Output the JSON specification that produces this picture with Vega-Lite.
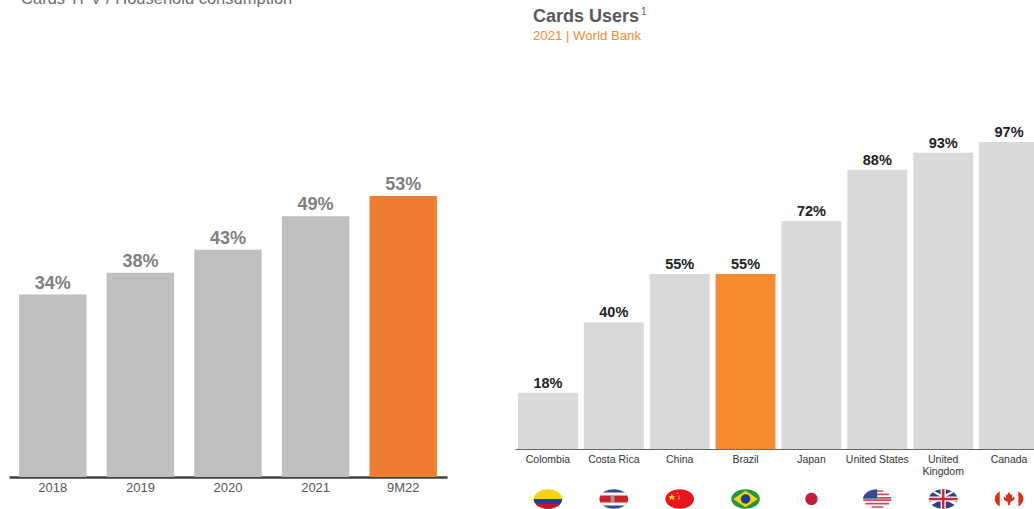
{
  "$schema": "https://vega.github.io/schema/vega-lite/v6.json",
  "width": 1034,
  "height": 509,
  "padding": 0,
  "autosize": {"type": "none"},
  "background": "white",
  "config": {"view": {"stroke": null}, "font": "Liberation Sans"},
  "datasets": {
    "tpv": [
      {"period": "2018", "share": 34.3, "label": "34%"},
      {"period": "2019", "share": 38.4, "label": "38%"},
      {"period": "2020", "share": 42.7, "label": "43%"},
      {"period": "2021", "share": 49, "label": "49%"},
      {"period": "9M22", "share": 52.8, "label": "53%"}
    ],
    "users": [
      {"country": "Colombia", "share": 17.8, "label": "18%"},
      {"country": "Costa Rica", "share": 40, "label": "40%"},
      {"country": "China", "share": 55.3, "label": "55%"},
      {"country": "Brazil", "share": 55.3, "label": "55%"},
      {"country": "Japan", "share": 72, "label": "72%"},
      {"country": "United States", "share": 88.2, "label": "88%"},
      {"country": "United Kingdom", "share": 93.6, "label": "93%"},
      {"country": "Canada", "share": 97, "label": "97%"}
    ],
    "flags": [
      {"country": "Colombia", "part": "co-yellow"},
      {"country": "Colombia", "part": "co-blue"},
      {"country": "Colombia", "part": "co-red"},
      {"country": "Costa Rica", "part": "cr-blue"},
      {"country": "Costa Rica", "part": "cr-white"},
      {"country": "Costa Rica", "part": "cr-red"},
      {"country": "Costa Rica", "part": "cr-emblem"},
      {"country": "China", "part": "cn-red"},
      {"country": "China", "part": "cn-stars"},
      {"country": "Brazil", "part": "br-green"},
      {"country": "Brazil", "part": "br-yellow"},
      {"country": "Brazil", "part": "br-blue"},
      {"country": "Japan", "part": "jp-rim"},
      {"country": "Japan", "part": "jp-white"},
      {"country": "Japan", "part": "jp-red"},
      {"country": "United States", "part": "us-white"},
      {"country": "United States", "part": "us-stripes"},
      {"country": "United States", "part": "us-blue"},
      {"country": "United Kingdom", "part": "uk-blue"},
      {"country": "United Kingdom", "part": "uk-diag"},
      {"country": "United Kingdom", "part": "uk-cross-white"},
      {"country": "United Kingdom", "part": "uk-cross-red"},
      {"country": "Canada", "part": "ca-white"},
      {"country": "Canada", "part": "ca-bars"},
      {"country": "Canada", "part": "ca-leaf"}
    ]
  },
  "resolve": {"scale": {"x": "independent", "y": "independent"}, "axis": {"x": "independent", "y": "independent"}},
  "layer": [
    {
      "data": {"name": "tpv"},
      "layer": [
        {
          "mark": {"type": "bar"},
          "encoding": {
            "x": {
              "field": "period", "type": "nominal", "sort": null,
              "scale": {"type": "band", "domain": ["2018", "2019", "2020", "2021", "9M22"], "range": [9, 447], "paddingInner": 0.23, "paddingOuter": 0.115},
              "axis": {"title": null, "orient": "bottom", "offset": -32, "ticks": false, "domain": true, "domainColor": "#404040", "domainWidth": 2.5, "labelAngle": 0, "labelFontSize": 13, "labelColor": "#555555", "labelPadding": 4, "grid": false}
            },
            "y": {
              "field": "share", "type": "quantitative",
              "scale": {"domain": [0, 89.66], "range": [477, 0], "nice": false, "zero": false},
              "axis": null
            },
            "color": {"condition": {"test": "datum.period === '9M22'", "value": "#ED7D31"}, "value": "#BFBFBF"}
          }
        },
        {
          "mark": {"type": "text", "baseline": "bottom", "dy": -2, "fontSize": 18, "fontWeight": "bold", "color": "#7F7F7F"},
          "encoding": {
            "x": {"field": "period", "type": "nominal", "sort": null},
            "y": {"field": "share", "type": "quantitative"},
            "text": {"field": "label"}
          }
        },
        {
          "data": {"values": [{"t": "Cards TPV / Household consumption"}]},
          "mark": {"type": "text", "align": "left", "baseline": "alphabetic", "fontSize": 16.5, "color": "#6E6E6E", "dx": 2},
          "encoding": {
            "x": {"datum": "2018", "type": "nominal", "bandPosition": 0},
            "y": {"datum": 88.9, "type": "quantitative"},
            "text": {"field": "t"}
          }
        }
      ]
    },
    {
      "data": {"name": "users"},
      "layer": [
        {
          "mark": {"type": "bar", "clip": true},
          "encoding": {
            "x": {
              "field": "country", "type": "nominal", "sort": null,
              "scale": {"type": "band", "domain": ["Colombia", "Costa Rica", "China", "Brazil", "Japan", "United States", "United Kingdom", "Canada"], "range": [515, 1042], "paddingInner": 0.09, "paddingOuter": 0.045},
              "axis": {"title": null, "orient": "bottom", "offset": -60, "ticks": false, "domain": true, "domainColor": "#666666", "domainWidth": 1.2, "labelAngle": 0, "labelFontSize": 10.5, "labelColor": "#333333", "labelPadding": 5, "labelLimit": 120, "grid": false, "labelExpr": "datum.label === 'United Kingdom' ? ['United', 'Kingdom'] : datum.label"}
            },
            "y": {
              "field": "share", "type": "quantitative",
              "scale": {"domain": [0, 141.86], "range": [449, 0], "nice": false, "zero": false},
              "axis": null
            },
            "color": {"condition": {"test": "datum.country === 'Brazil'", "value": "#F58A33"}, "value": "#D9D9D9"}
          }
        },
        {
          "mark": {"type": "text", "baseline": "bottom", "dy": -2, "fontSize": 14.5, "fontWeight": "bold", "color": "#222222"},
          "encoding": {
            "x": {"field": "country", "type": "nominal", "sort": null},
            "y": {"field": "share", "type": "quantitative"},
            "text": {"field": "label"}
          }
        },
        {
          "data": {"values": [{"t": "Cards Users"}]},
          "mark": {"type": "text", "align": "left", "baseline": "alphabetic", "fontSize": 18, "fontWeight": "bold", "color": "#595959", "dx": 15},
          "encoding": {
            "x": {"datum": "Colombia", "type": "nominal", "bandPosition": 0},
            "y": {"datum": 135, "type": "quantitative"},
            "text": {"field": "t"}
          }
        },
        {
          "data": {"values": [{"t": "1"}]},
          "mark": {"type": "text", "align": "left", "baseline": "alphabetic", "fontSize": 10, "color": "#595959", "dx": 123},
          "encoding": {
            "x": {"datum": "Colombia", "type": "nominal", "bandPosition": 0},
            "y": {"datum": 137, "type": "quantitative"},
            "text": {"field": "t"}
          }
        },
        {
          "data": {"values": [{"t": "2021 | World Bank"}]},
          "mark": {"type": "text", "align": "left", "baseline": "alphabetic", "fontSize": 13.2, "color": "#F58A33", "dx": 15},
          "encoding": {
            "x": {"datum": "Colombia", "type": "nominal", "bandPosition": 0},
            "y": {"datum": 129.3, "type": "quantitative"},
            "text": {"field": "t"}
          }
        },
        {
          "data": {"name": "flags"},
          "mark": {"type": "point", "filled": true, "size": 818, "opacity": 1, "strokeWidth": 0},
          "encoding": {
            "x": {"field": "country", "type": "nominal", "sort": null},
            "y": {"datum": -15.8, "type": "quantitative"},
            "shape": {
              "field": "part", "type": "nominal", "legend": null,
              "scale": {
                "domain": ["co-yellow", "co-blue", "co-red", "cr-blue", "cr-white", "cr-red", "cr-emblem", "cn-red", "cn-stars", "br-green", "br-yellow", "br-blue", "jp-rim", "jp-white", "jp-red", "us-white", "us-stripes", "us-blue", "uk-blue", "uk-diag", "uk-cross-white", "uk-cross-red", "ca-white", "ca-bars", "ca-leaf"],
                "range": [
                  "M-1,0A1,0.68,0,1,1,1,0A1,0.68,0,1,1,-1,0Z",
                  "M-1,0L1,0A1,0.68,0,0,1,-1,0Z",
                  "M-0.866,0.34L0.866,0.34A1,0.68,0,0,1,-0.866,0.34Z",
                  "M-1,0A1,0.68,0,1,1,1,0A1,0.68,0,1,1,-1,0Z",
                  "M-0.75,-0.45L0.75,-0.45A1,0.68,0,0,1,0.75,0.45L-0.75,0.45A1,0.68,0,0,1,-0.75,-0.45Z",
                  "M-0.93,-0.25L0.93,-0.25A1,0.68,0,0,1,0.93,0.25L-0.93,0.25A1,0.68,0,0,1,-0.93,-0.25Z",
                  "M-0.22,-0.22H0.05V0.22H-0.22Z",
                  "M-1,0A1,0.68,0,1,1,1,0A1,0.68,0,1,1,-1,0Z",
                  "M-0.55,-0.38L-0.47,-0.2L-0.3,-0.2L-0.43,-0.08L-0.37,0.08L-0.55,-0.02L-0.73,0.08L-0.67,-0.08L-0.8,-0.2L-0.63,-0.2ZM-0.2,-0.45H-0.1V-0.35H-0.2ZM-0.1,-0.25H0V-0.15H-0.1ZM-0.1,-0.08H0V0.02H-0.1Z",
                  "M-1,0A1,0.68,0,1,1,1,0A1,0.68,0,1,1,-1,0Z",
                  "M-0.86,0L0,-0.58L0.86,0L0,0.58Z",
                  "M-0.33,0A0.33,0.33,0,1,1,0.33,0A0.33,0.33,0,1,1,-0.33,0Z",
                  "M-1,0A1,0.68,0,1,1,1,0A1,0.68,0,1,1,-1,0Z",
                  "M-0.97,0A0.97,0.65,0,1,1,0.97,0A0.97,0.65,0,1,1,-0.97,0Z",
                  "M-0.43,0A0.43,0.43,0,1,1,0.43,0A0.43,0.43,0,1,1,-0.43,0Z",
                  "M-1,0A1,0.68,0,1,1,1,0A1,0.68,0,1,1,-1,0Z",
                  "M0,-0.62H0.41V-0.5H0ZM0,-0.38H0.83V-0.26H0ZM0,-0.14H0.98V-0.02H0ZM-0.98,0.02H0.98V0.14H-0.98ZM-0.83,0.26H0.83V0.38H-0.83ZM-0.41,0.5H0.41V0.62H-0.41Z",
                  "M0,-0.68L0,-0.02L-1,-0.02A1,0.68,0,0,1,0,-0.68Z",
                  "M-1,0A1,0.68,0,1,1,1,0A1,0.68,0,1,1,-1,0Z",
                  "M-0.8,-0.5L-0.6,-0.55L0.95,0.25L0.8,0.42ZM0.8,-0.5L0.6,-0.55L-0.95,0.25L-0.8,0.42Z",
                  "M-0.18,-0.68H0.18V-0.18H1V0.18H0.18V0.68H-0.18V0.18H-1V-0.18H-0.18Z",
                  "M-0.09,-0.68H0.09V-0.09H1V0.09H0.09V0.68H-0.09V0.09H-1V-0.09H-0.09Z",
                  "M-1,0A1,0.68,0,1,1,1,0A1,0.68,0,1,1,-1,0Z",
                  "M-0.65,-0.52A1,0.68,0,0,0,-0.65,0.52ZM0.65,-0.52A1,0.68,0,0,1,0.65,0.52Z",
                  "M0,-0.5L0.12,-0.28L0.24,-0.33L0.2,-0.05L0.38,-0.18L0.36,0.05L0.08,0.22V0.42H-0.08V0.22L-0.36,0.05L-0.38,-0.18L-0.2,-0.05L-0.24,-0.33L-0.12,-0.28Z"
                ]
              }
            },
            "color": {
              "field": "part", "type": "nominal", "legend": null,
              "scale": {
                "domain": ["co-yellow", "co-blue", "co-red", "cr-blue", "cr-white", "cr-red", "cr-emblem", "cn-red", "cn-stars", "br-green", "br-yellow", "br-blue", "jp-rim", "jp-white", "jp-red", "us-white", "us-stripes", "us-blue", "uk-blue", "uk-diag", "uk-cross-white", "uk-cross-red", "ca-white", "ca-bars", "ca-leaf"],
                "range": ["#FBD116", "#1F3F94", "#CE1126", "#2C4A8C", "#FFFFFF", "#CE2028", "#9A9A9A", "#E8141E", "#FFD21E", "#1E9A3C", "#FBD116", "#1F3F8C", "#EDEDED", "#FFFFFF", "#C41E3A", "#FFFFFF", "#CF4A5C", "#3C4A8C", "#2F3F7F", "#FFFFFF", "#FFFFFF", "#D0293C", "#FFFFFF", "#D9301E", "#D9301E"]
              }
            }
          }
        }
      ]
    }
  ]
}
